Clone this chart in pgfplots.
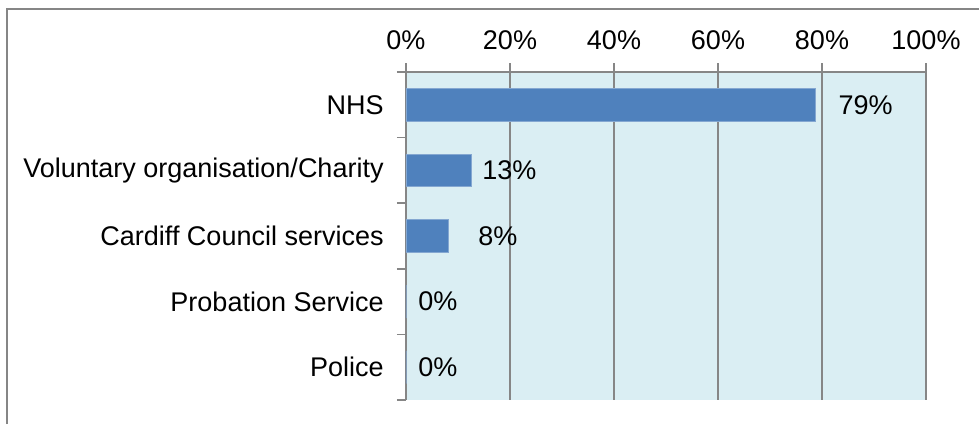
\documentclass[border=0pt]{standalone}
\usepackage{pgfplots}
\pgfplotsset{compat=1.18}
\usepackage{fontspec}
\setmainfont{Liberation Sans}
\definecolor{barblue}{HTML}{4F81BD}
\definecolor{bgblue}{HTML}{DAEEF3}
\definecolor{gridgray}{HTML}{868686}
\begin{document}
\begin{tikzpicture}[font=\fontsize{13.5}{16}\selectfont]
\useasboundingbox (-203pt,-12pt) rectangle (286.5pt,200pt);
\begin{axis}[
  at={(0,0)}, anchor=south west,
  scale only axis, width=260pt, height=164pt,
  xmin=0, xmax=100, ymin=-0.5, ymax=4.5, y dir=reverse,
  axis x line*=top, axis y line*=left,
  axis line style={draw=gridgray, line width=0.75pt, -},
  axis background/.style={fill=bgblue},
  xtick={0,20,40,60,80,100},
  xticklabels={0\%,20\%,40\%,60\%,80\%,100\%},
  xticklabel style={anchor=base, inner sep=0pt, yshift=7pt},
  xmajorgrids, major grid style={draw=gridgray, line width=0.75pt},
  tick align=outside, major tick length=4.5pt,
  tick style={draw=gridgray, line width=0.75pt},
  ytick={-0.5,0.5,1.5,2.5,3.5,4.5}, yticklabels={},
  extra y ticks={0,1,2,3,4},
  extra y tick labels={NHS,Voluntary organisation/Charity,Cardiff Council services,Probation Service,Police},
  extra y tick style={tick style={draw=none}, yticklabel style={inner sep=0pt, anchor=east, xshift=-6.5pt}},
  clip=false,
]
\addplot[xbar, bar width=0.5, fill=barblue, draw=barblue!70!white, line width=0.4pt]
  coordinates {(78.8,0) (12.5,1) (8.1,2) (0,3) (0,4)};
\addplot[draw=none, mark=none, point meta=explicit symbolic,
  nodes near coords={\pgfplotspointmeta\%},
  every node near coord/.append style={anchor=west, inner sep=0pt, text=black}]
  table[meta=lab] {
x y lab
83.1 0 79
14.6 1 13
13.85 2 8
2.3 3 0
2.3 4 0
};
\end{axis}
\draw[gridgray, line width=0.9pt] (-199.5pt,-12pt) -- (-199.5pt,195.5pt) -- (290pt,195.5pt);
\end{tikzpicture}
\end{document}
